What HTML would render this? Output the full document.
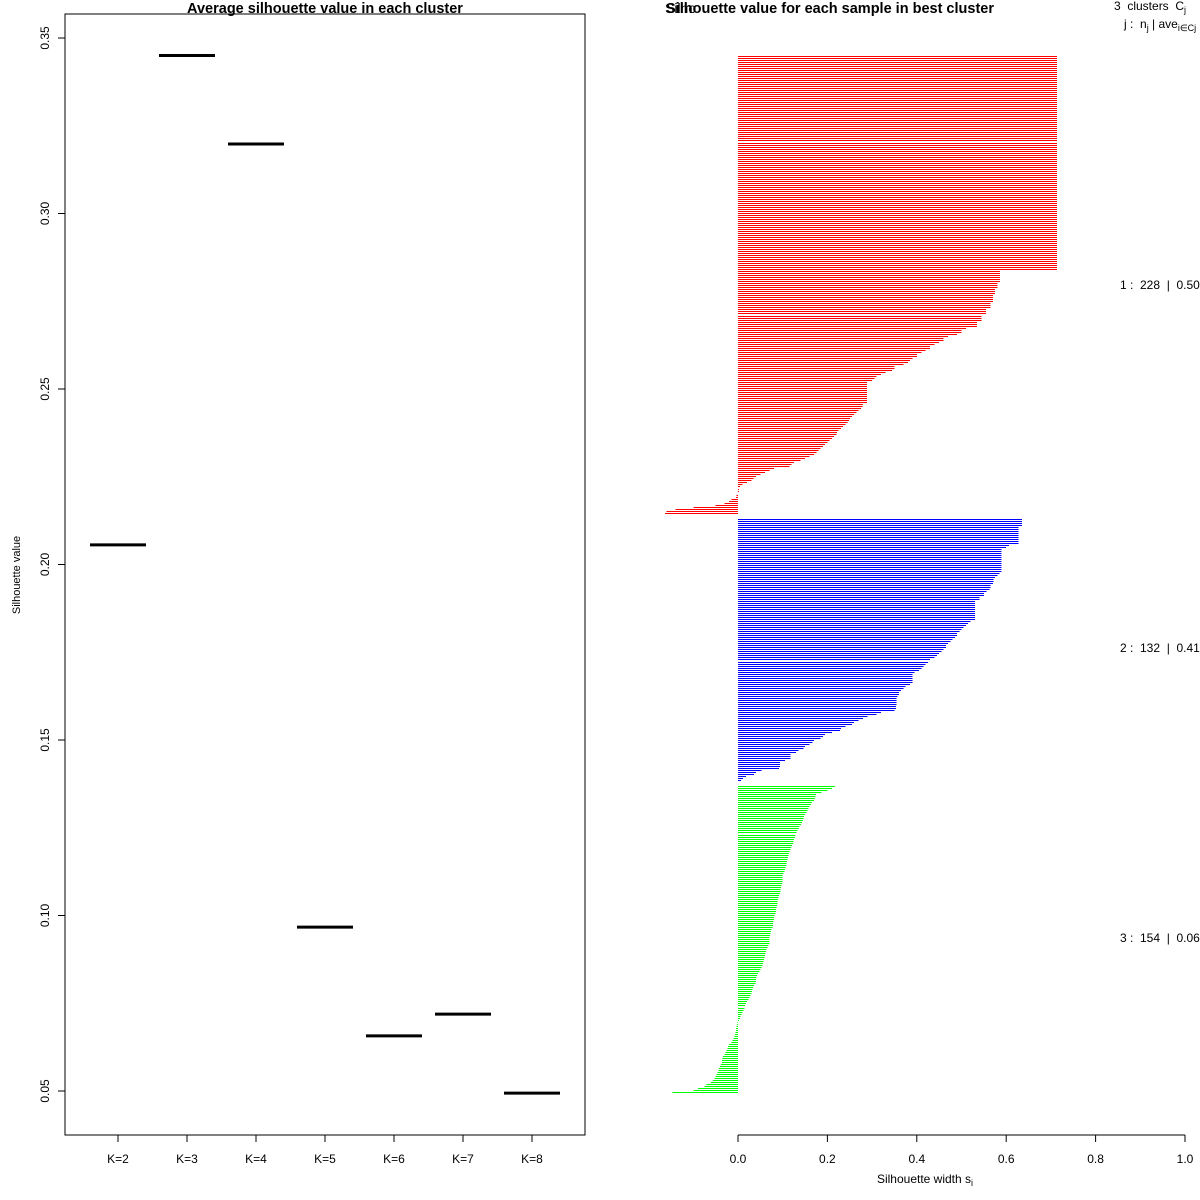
<!DOCTYPE html>
<html><head><meta charset="utf-8"><style>
html,body{margin:0;padding:0;background:#fff;}
svg{display:block;font-family:"Liberation Sans",sans-serif;}
text{white-space:pre;}
</style></head><body>
<svg id="chart" width="1200" height="1200" viewBox="0 0 1200 1200" xmlns="http://www.w3.org/2000/svg">
<rect x="0" y="0" width="1200" height="1200" fill="#fff"/>
<g id="left">
  <text x="325" y="13" text-anchor="middle" font-weight="bold" font-size="14.5">Average silhouette value in each cluster</text>
  <rect x="65" y="14" width="520" height="1121" fill="none" stroke="#000" stroke-width="1"/>
  <text transform="translate(20,575) rotate(-90)" text-anchor="middle" font-size="11">Silhouette value</text>
</g>
<g id="right">
  <text x="665" y="13" font-size="14">Silho</text>
  <text x="830" y="13" text-anchor="middle" font-weight="bold" font-size="14.5">Silhouette value for each sample in best cluster</text>
  <text x="1114" y="10" font-size="12">3  clusters  C<tspan font-size="9" dy="3">j</tspan></text>
  <text x="1124" y="28" font-size="12">j :  n<tspan font-size="9" dy="3">j</tspan><tspan dy="-3"> | ave</tspan><tspan font-size="9" dy="3">i∈Cj</tspan><tspan dy="-3">  s</tspan></text>
  <text x="1120" y="289" font-size="12">1 :  228  |  0.50</text>
  <text x="1120" y="652" font-size="12">2 :  132  |  0.41</text>
  <text x="1120" y="942" font-size="12">3 :  154  |  0.06</text>
  <text x="925" y="1183" text-anchor="middle" font-size="12">Silhouette width s<tspan font-size="9" dy="3">i</tspan></text>
</g>
</svg>
<script>
// ---- left chart data ----
const kLabels = ["K=2","K=3","K=4","K=5","K=6","K=7","K=8"];
const avgSil = [0.2056,0.345,0.3198,0.0967,0.0657,0.0719,0.0494];
const yTicks = [0.05,0.10,0.15,0.20,0.25,0.30,0.35];
const yTickLabels = ["0.05","0.10","0.15","0.20","0.25","0.30","0.35"];
// ---- right chart data ----
const xTicks = [0,0.2,0.4,0.6,0.8,1.0];
const xTickLabels = ["0.0","0.2","0.4","0.6","0.8","1.0"];
const clusterColors = ["#ff0000","#0000ff","#00ff00"];
const cluster1Runs = [[0.714,107],[0.586,6],[0.58,3],[0.575,3],[0.57,4],[0.565,3],[0.555,3],[0.545,3],[0.535,3],
 [0.51,1],[0.5,2],[0.49,1],[0.47,1],[0.46,2],[0.45,1],[0.44,1],[0.43,2],[0.42,1],[0.41,1],[0.40,2],[0.39,1],
 [0.385,1],[0.38,1],[0.37,1],[0.35,2],[0.345,1],[0.33,1],[0.32,1],[0.31,1],[0.305,1],[0.30,1],[0.289,11],
 [0.28,1],[0.278,1],[0.275,1],[0.27,1],[0.265,1],[0.26,1],[0.255,1],[0.25,1],[0.248,1],[0.245,1],[0.24,1],[0.235,1],[0.23,1],[0.225,1],[0.222,1],[0.22,1],
 [0.215,1],[0.21,1],[0.205,1],[0.2,1],[0.195,1],[0.19,1],[0.185,1],[0.18,1],[0.176,1],[0.17,1],[0.16,1],[0.15,1],[0.14,1],
 [0.125,1],[0.12,1],[0.115,1],[0.08,1],[0.07,1],[0.06,1],[0.05,1],[0.04,1],[0.035,1],[0.03,1],[0.02,1],[0.01,1],[0.005,1],
 [0.002,2],[0,1],[-0.003,1],[-0.005,1],[-0.015,1],[-0.02,1],[-0.03,1],[-0.05,1],[-0.1,1],[-0.14,1],[-0.16,1],[-0.163,1]];
const cluster2Runs = [[0.635,4],[0.628,9],[0.606,1],[0.60,1],[0.59,12],[0.585,1],[0.58,1],[0.575,1],[0.572,2],[0.57,1],[0.565,2],
 [0.563,1],[0.556,1],[0.55,2],[0.54,2],[0.53,10],[0.52,1],[0.515,1],[0.51,1],[0.505,1],[0.5,1],[0.495,1],[0.49,2],[0.485,1],[0.48,1],[0.475,1],
 [0.47,1],[0.465,2],[0.46,1],[0.455,1],[0.45,1],[0.445,1],[0.44,1],[0.43,1],[0.425,1],[0.42,1],[0.415,1],[0.41,1],[0.405,1],[0.395,1],[0.39,5],
 [0.385,1],[0.375,1],[0.37,1],[0.365,1],[0.36,2],[0.357,1],[0.355,4],[0.354,2],[0.35,1],[0.32,1],[0.31,1],[0.29,1],[0.28,1],[0.27,1],
 [0.26,1],[0.255,1],[0.24,1],[0.23,1],[0.228,1],[0.21,1],[0.195,1],[0.19,1],[0.185,1],[0.17,1],[0.167,1],[0.16,1],[0.15,1],[0.146,1],[0.135,1],[0.13,1],
 [0.118,3],[0.105,1],[0.094,3],[0.092,1],[0.053,1],[0.04,1],[0.036,1],[0.018,1],[0.011,1],[0.007,1]];
const cluster3Runs = [[0.217,1],[0.21,1],[0.2,1],[0.187,1],[0.175,1],[0.173,1],[0.172,1],[0.17,1],[0.165,1],[0.163,1],[0.16,1],[0.158,1],[0.156,1],[0.153,1],
 [0.15,1],[0.148,1],[0.147,1],[0.145,1],[0.143,1],[0.141,1],[0.138,1],[0.136,1],[0.133,1],[0.131,1],[0.129,1],[0.127,1],[0.125,1],
 [0.124,1],[0.123,1],[0.121,1],[0.119,1],[0.117,1],[0.115,1],[0.114,1],[0.113,1],[0.112,1],[0.111,1],[0.11,1],[0.108,2],
 [0.106,1],[0.105,1],[0.104,1],[0.102,1],[0.1,3],[0.099,1],[0.098,1],[0.097,1],[0.096,1],[0.095,2],[0.094,1],[0.092,1],[0.091,1],
 [0.089,1],[0.088,2],[0.087,1],[0.086,1],[0.085,2],[0.084,1],[0.082,1],[0.081,1],[0.08,1],[0.079,1],[0.078,2],[0.077,1],[0.075,1],
 [0.074,1],[0.073,1],[0.072,1],[0.071,1],[0.07,3],[0.068,1],[0.066,1],[0.064,1],[0.063,1],[0.062,1],[0.06,1],[0.059,1],
 [0.058,1],[0.057,1],[0.056,1],[0.055,1],[0.053,1],[0.05,1],[0.048,1],[0.045,1],[0.043,1],[0.041,1],[0.04,2],[0.039,1],
 [0.036,1],[0.034,1],[0.032,1],[0.031,1],[0.03,1],[0.028,1],[0.026,1],[0.024,1],
 [0.02,1],[0.018,1],[0.016,1],[0.014,1],[0.012,1],[0.01,1],[0.008,1],[0.006,1],[0.004,1],[0.002,1],
 [-0.001,1],[-0.002,1],[-0.003,1],[-0.004,1],[-0.005,1],[-0.006,1],[-0.007,1],[-0.008,1],
 [-0.01,1],[-0.012,1],[-0.015,1],[-0.02,1],[-0.022,1],[-0.024,1],[-0.026,1],[-0.028,1],
 [-0.03,1],[-0.033,1],[-0.035,1],[-0.036,2],[-0.038,1],[-0.04,1],[-0.042,1],[-0.044,1],
 [-0.046,1],[-0.048,1],[-0.05,1],[-0.053,1],[-0.056,1],[-0.06,1],[-0.07,1],[-0.075,1],[-0.09,1],[-0.1,1],[-0.147,1]];

(function(){
const NS = "http://www.w3.org/2000/svg";
const svg = document.getElementById("chart");
function mk(tag, attrs, parent){const e=document.createElementNS(NS,tag);for(const k in attrs)e.setAttribute(k,attrs[k]);(parent||svg).appendChild(e);return e;}

const yScale = v => 38 + (0.35 - v) * 3510;
const kScale = i => 118 + 69 * i;
const left = document.getElementById("left");
yTicks.forEach((t,i)=>{
  const tk = mk("line",{x1:58,x2:65,y1:yScale(t),y2:yScale(t),stroke:"#000"},left);
  
  
  const lb = mk("text",{transform:`translate(49,${yScale(t)}) rotate(-90)`,"text-anchor":"middle","font-size":"12"},left);
  
  
  lb.textContent = yTickLabels[i];
});
kLabels.forEach((k,i)=>{
  const x = kScale(i);
  const tk = mk("line",{x1:x,x2:x,y1:1135,y2:1142,stroke:"#000"},left);
  
  
  const lb = mk("text",{x:x,y:1163,"text-anchor":"middle","font-size":"12"},left);
  
  
  lb.textContent = k;
  const seg = mk("line",{x1:x-28,x2:x+28,y1:yScale(avgSil[i]),y2:yScale(avgSil[i]),stroke:"#000","stroke-width":3},left);
  
  
});

const right = document.getElementById("right");
const xScale = v => 738 + v * 447;
const clusters = [cluster1Runs, cluster2Runs, cluster3Runs];
const expanded = clusters.map(runs => {const a=[];runs.forEach(r=>{for(let j=0;j<r[1];j++)a.push(r[0]);});return a;});
const gap = 2;
const totalRows = expanded.reduce((s,a)=>s+a.length,0) + gap*(expanded.length-1);
const yTop = 56, yBottom = 1094;
const pitch = (yBottom - yTop) / totalRows;
let row = 0;
expanded.forEach((vals,ci)=>{
  const g = mk("g",{"shape-rendering":"crispEdges"},right);
  
  
  vals.forEach(v=>{
    const y = Math.round(yTop + row*pitch);
    const x0 = xScale(0), x1 = xScale(v);
    const r = mk("rect",{x:Math.min(x0,x1),y:y,width:Math.max(Math.abs(x1-x0),0.01),height:1,fill:clusterColors[ci]},g);
    
    
    row++;
  });
  row += gap;
});
const axis = mk("line",{x1:xScale(0),x2:xScale(1),y1:1135,y2:1135,stroke:"#000"},right);


xTicks.forEach((t,i)=>{
  const tk = mk("line",{x1:xScale(t),x2:xScale(t),y1:1135,y2:1142,stroke:"#000"},right);
  
  
  const lb = mk("text",{x:xScale(t),y:1163,"text-anchor":"middle","font-size":"12"},right);
  
  
  lb.textContent = xTickLabels[i];
});
})();
</script>
</body></html>
